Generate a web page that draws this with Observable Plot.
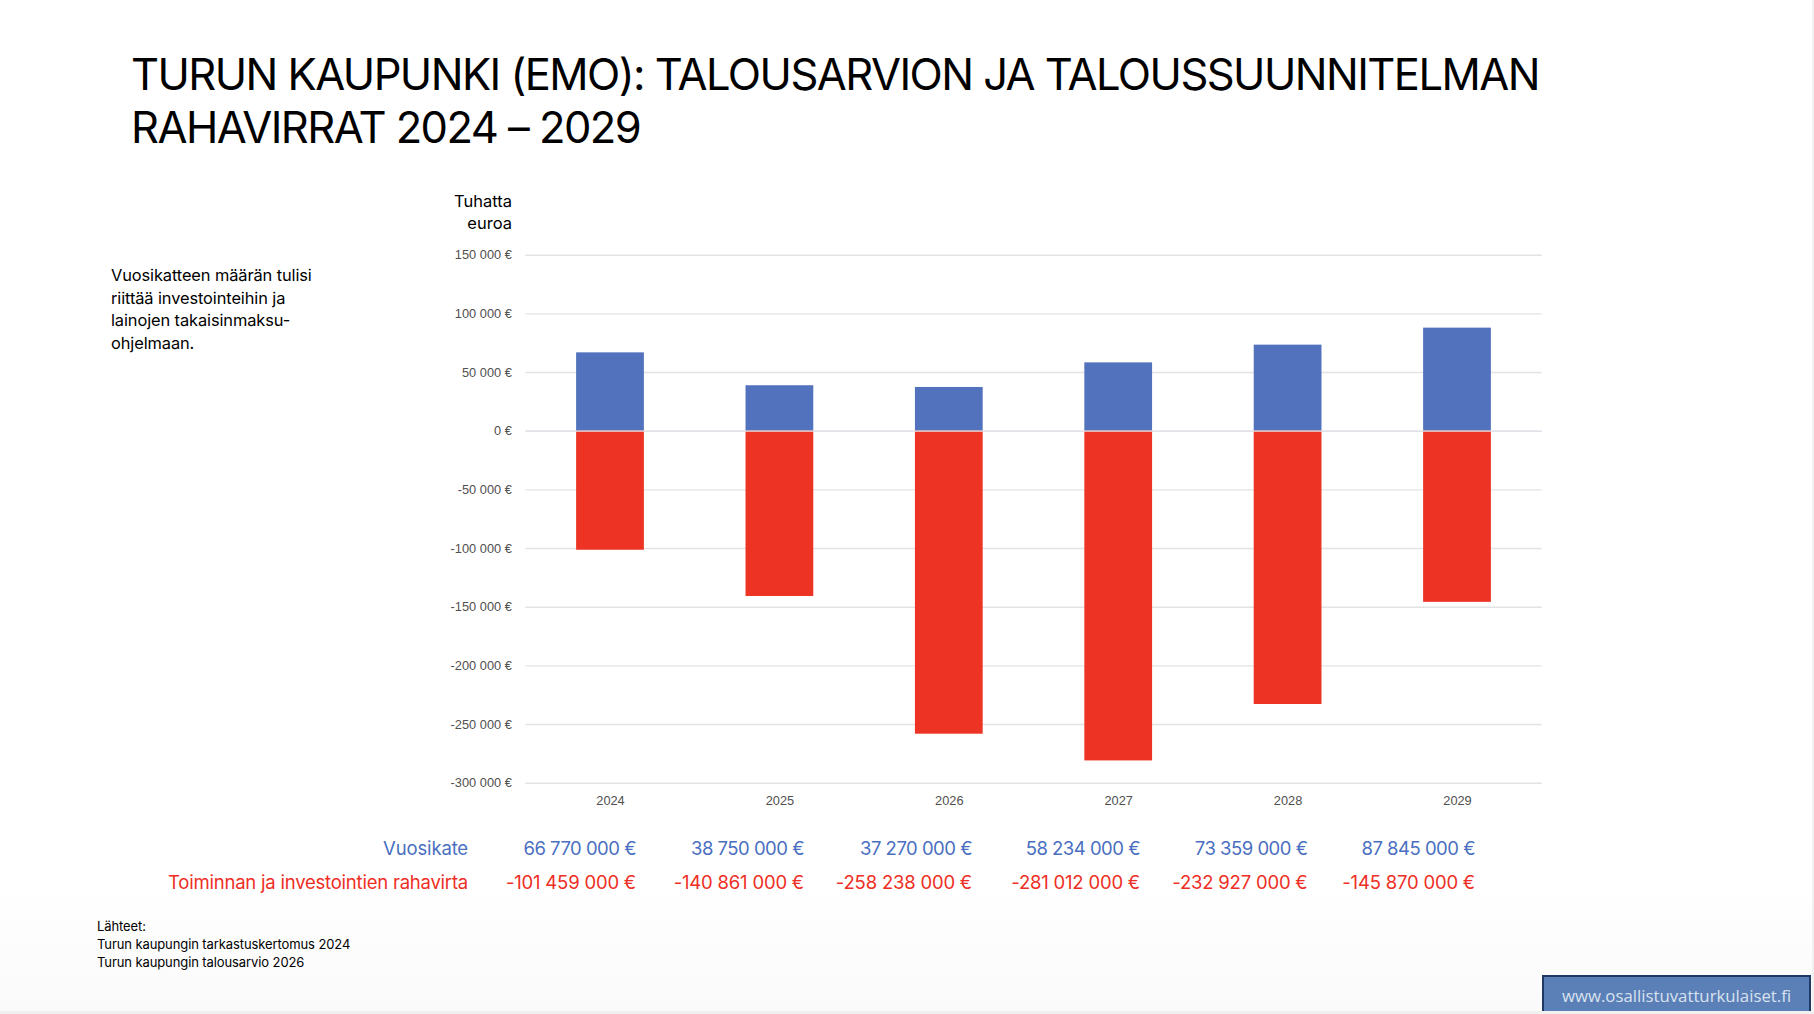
<!DOCTYPE html>
<html lang="fi">
<head>
<meta charset="utf-8">
<script src="https://cdn.jsdelivr.net/npm/d3@7"></script>
<script src="https://cdn.jsdelivr.net/npm/@observablehq/plot@0.6"></script>
<style>
html,body{margin:0;padding:0;background:#fff;}
#page{position:relative;width:1814px;height:1014px;overflow:hidden;background:linear-gradient(#fff 0,#fff 880px,#fafafa 1012px);font-family:Inter,sans-serif;color:#000;}
#page>div,#page>svg,#chart{position:absolute;}
#edgeR{left:1812px;top:0;width:2px;height:1014px;background:#f1f1f1;}
#edgeB{left:0;top:1011px;width:1814px;height:3px;background:#f1f1f1;}
#title{left:131px;top:48px;font-size:43.5px;line-height:52.5px;font-weight:400;letter-spacing:-1.55px;white-space:nowrap;}
#note{left:111px;top:264px;font-size:16.4px;line-height:22.5px;white-space:nowrap;letter-spacing:-.1px;}
#unit{left:412px;width:100px;top:190px;text-align:right;font-size:16.5px;line-height:22px;}
#src{left:97px;top:918px;font-size:13px;line-height:17.8px;white-space:nowrap;letter-spacing:-.1px;}
.cell{white-space:nowrap;text-align:right;font-size:18.5px;line-height:24px;}
#stamp{left:1542px;top:975px;width:265px;height:40px;box-sizing:content-box;background:#5b80b8;border:2px solid #1f3864;color:#d9e2ee;font-family:"Open Sans",sans-serif;font-size:16.8px;line-height:38px;text-align:center;}
</style>
</head>
<body>
<div id="page">
  <div id="chart"></div>
  <div id="title">TURUN KAUPUNKI (EMO): TALOUSARVION JA TALOUSSUUNNITELMAN<br>RAHAVIRRAT 2024 – 2029</div>
  <div id="note">Vuosikatteen määrän tulisi<br>riittää investointeihin ja<br>lainojen takaisinmaksu-<br>ohjelmaan.</div>
  <div id="unit">Tuhatta<br>euroa</div>
  <div id="src">Lähteet:<br>Turun kaupungin tarkastuskertomus 2024<br>Turun kaupungin talousarvio 2026</div>
  <div id="stamp">www.osallistuvatturkulaiset.fi</div>
  <div id="edgeR"></div><div id="edgeB"></div>
</div>
<script>
const years = ["2024","2025","2026","2027","2028","2029"];
const vuosikate = [66770,38750,37270,58234,73359,87845];
const rahavirta = [-101459,-140861,-258238,-281012,-232927,-145870];
const yTicks = [150000,100000,50000,0,-50000,-100000,-150000,-200000,-250000,-300000];
const rowLabels = ["Vuosikate","Toiminnan ja investointien rahavirta"];
const colBlue = "#5272be", colRed = "#ed3424", rowBlue = "#4a6fc0", rowRed = "#ee2e24";

const loc = d3.formatLocale({decimal:",",thousands:"\u00a0",grouping:[3],currency:["","\u00a0€"],minus:"-"});
const euro = loc.format("$,.0f");

const rows = years.map((year,i)=>({year,vuosikate:vuosikate[i],rahavirta:rahavirta[i]}));

const chart = Plot.plot({
  width:1814, height:600,
  marginTop:24.7, marginBottom:47.3, marginLeft:525.3, marginRight:272.3,
  style:{background:"transparent",fontFamily:"'Liberation Sans',Arial,sans-serif",fontSize:"12.8px"},
  x:{type:"band",domain:years,paddingInner:.6,paddingOuter:.3,round:false,label:null},
  y:{domain:[-300000,150000],label:null},
  marks:[
    Plot.gridY(yTicks,{stroke:"#e3e3e3",strokeOpacity:1,strokeWidth:1.4}),
    Plot.barY(rows,{x:"year",y:"vuosikate",fill:colBlue,inset:0}),
    Plot.barY(rows,{x:"year",y:"rahavirta",fill:colRed,inset:0}),
    Plot.ruleY([0],{stroke:"#dfe3ea",strokeWidth:1.2}),
    Plot.axisY(yTicks,{tickSize:0,tickPadding:14,tickFormat:euro,label:null,color:"#505050",fontSize:12.8}),
    Plot.axisX({tickSize:0,tickPadding:13,label:null,color:"#505050",fontSize:12.8})
  ]
});
const host = document.getElementById("chart");
host.style.left="0px"; host.style.top="230px";
host.appendChild(chart);

const page = document.getElementById("page");
const addCell = (text,right,cy,color,spacing)=>{
  const d=document.createElement("div");
  d.className="cell"; d.textContent=text;
  d.style.right=(1814-right)+"px"; d.style.top=(cy-12)+"px"; d.style.color=color;
  d.style.letterSpacing=spacing+"px";
  page.appendChild(d);
};
const colRight=[636,804,972,1140,1307.5,1475];
addCell(rowLabels[0],468,848,rowBlue,-.15);
addCell(rowLabels[1],468,882,rowRed,-.22);
years.forEach((y,i)=>{
  addCell(euro(vuosikate[i]*1000),colRight[i],848,rowBlue,-.5);
  addCell(euro(rahavirta[i]*1000),colRight[i],882,rowRed,-.2);
});
</script>
</body>
</html>
